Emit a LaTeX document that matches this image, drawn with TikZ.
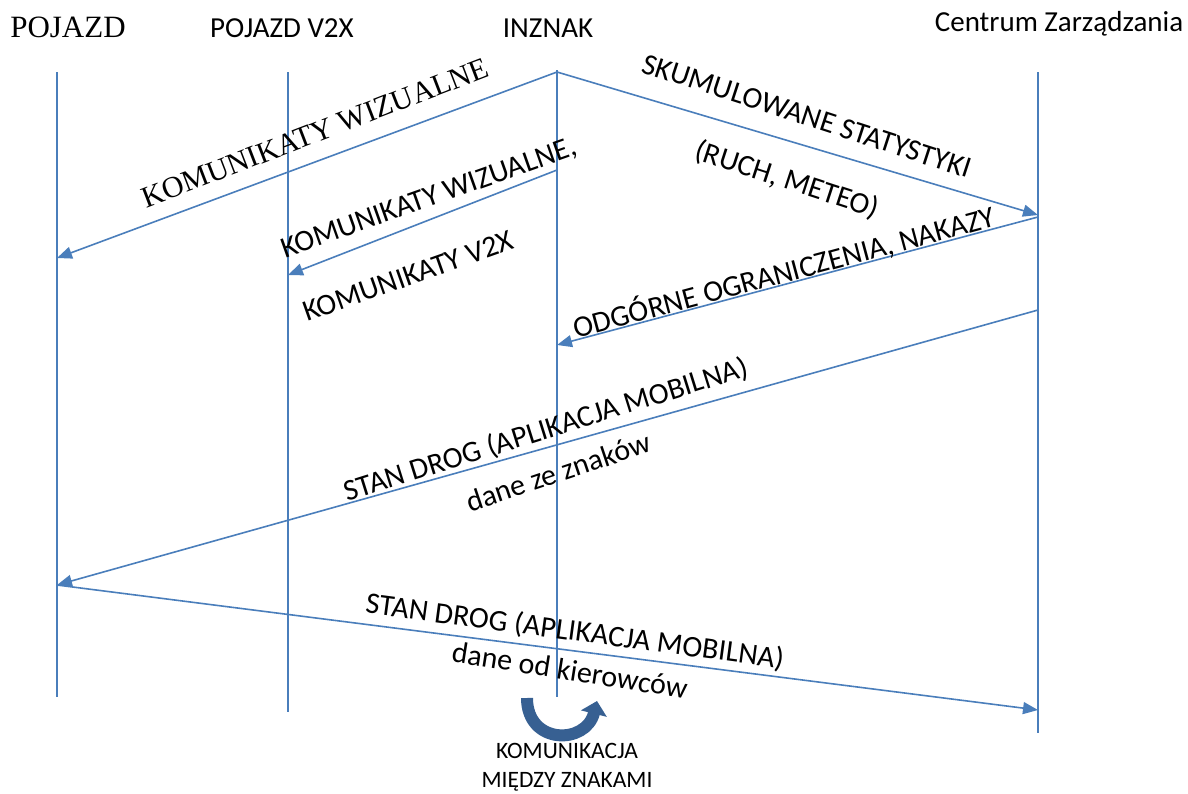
\documentclass[tikz,border=0pt]{standalone}
\usepackage{fontspec}
\setmainfont{Carlito}
\newfontfamily\serifx{Liberation Serif}
\usetikzlibrary{arrows.meta}
\definecolor{lineblue}{RGB}{74,126,187}
\definecolor{darkblue}{RGB}{55,96,146}
\begin{document}
\begin{tikzpicture}[x=1pt,y=-1pt,
  life/.style={draw=lineblue,line width=1.6pt},
  msg/.style={draw=lineblue,line width=1.6pt,-{Triangle[length=15pt,width=12pt]}},
  lbl/.style={font=\fontsize{30}{34}\selectfont,inner sep=0pt},
  head/.style={font=\fontsize{29}{33}\selectfont,inner sep=0pt},
  small/.style={font=\fontsize{23.5}{27}\selectfont,inner sep=0pt}]
\useasboundingbox (0,0) rectangle (1188,793);

% headers
\node[head,font=\serifx\fontsize{31}{34}\selectfont] (hp) at (68,27) {POJAZD};
\node[head] (hv) at (282,28) {POJAZD V2X};
\node[head] (hi) at (548,28) {INZNAK};
\node[head] (hc) at (1059,24) {Centrum Zarządzania};

% lifelines
\coordinate (pt) at (57,72);   \coordinate (pb) at (57,697);
\coordinate (vt) at (288,72);  \coordinate (vb) at (288,712);
\coordinate (it) at (557,70);  \coordinate (ib) at (557,697);
\coordinate (ct) at (1038,72); \coordinate (cb) at (1038,733);
\draw[life] (pt) -- (pb);
\draw[life] (vt) -- (vb);
\draw[life] (it) -- (ib);
\draw[life] (ct) -- (cb);

% message points
\coordinate (i1) at (557,72);
\coordinate (p1) at (57,258);
\coordinate (c1) at (1038,215);
\coordinate (i2) at (557,170);
\coordinate (v2) at (288,275);
\coordinate (c2) at (1038,217);
\coordinate (i3) at (557,345);
\coordinate (c3) at (1038,310);
\coordinate (p3) at (57,585);
\coordinate (c4) at (1038,710);

\draw[msg] (i1) -- (p1);
\draw[msg] (i1) -- (c1);
\draw[msg] (i2) -- (v2);
\draw[msg] (c2) -- (i3);
\draw[msg] (c3) -- (p3);
\draw[msg] (p3) -- (c4);

% labels
\node[lbl,font=\serifx\fontsize{30}{34}\selectfont,rotate=21] (l1) at (315,133) {KOMUNIKATY WIZUALNE};
\node[lbl,rotate=-18] (l2a) at (807,116) {SKUMULOWANE STATYSTYKI};
\node[lbl,rotate=-18] (l2b) at (787,180) {(RUCH, METEO)};
\node[lbl,rotate=19.5] (l3a) at (429,199) {KOMUNIKATY WIZUALNE,};
\node[lbl,rotate=19.5] (l3b) at (408,276) {KOMUNIKATY V2X};
\node[lbl,rotate=15] (l4) at (784,272) {ODGÓRNE OGRANICZENIA, NAKAZY};
\node[lbl,rotate=17.4] (l5a) at (546,430) {STAN DROG (APLIKACJA MOBILNA)};
\node[lbl,rotate=18.6] (l5b) at (558,472) {dane ze znaków};
\node[lbl,rotate=-7.6] (l6a) at (575,632) {STAN DROG (APLIKACJA MOBILNA)};
\node[lbl,rotate=-9] (l6b) at (570,670) {dane od kierowców};

% inter-sign communication arrow
\coordinate (ua) at (527,698);
\coordinate (ub) at (597,701);
\draw[darkblue,line width=12pt,-{Triangle[length=13pt,width=26pt]}]
  (ua) .. controls (527,745) and (586,745) .. (ub);
\node[small] (k1) at (567,751) {KOMUNIKACJA};
\node[small] (k2) at (567,782) {MIĘDZY ZNAKAMI};
\end{tikzpicture}
\end{document}
